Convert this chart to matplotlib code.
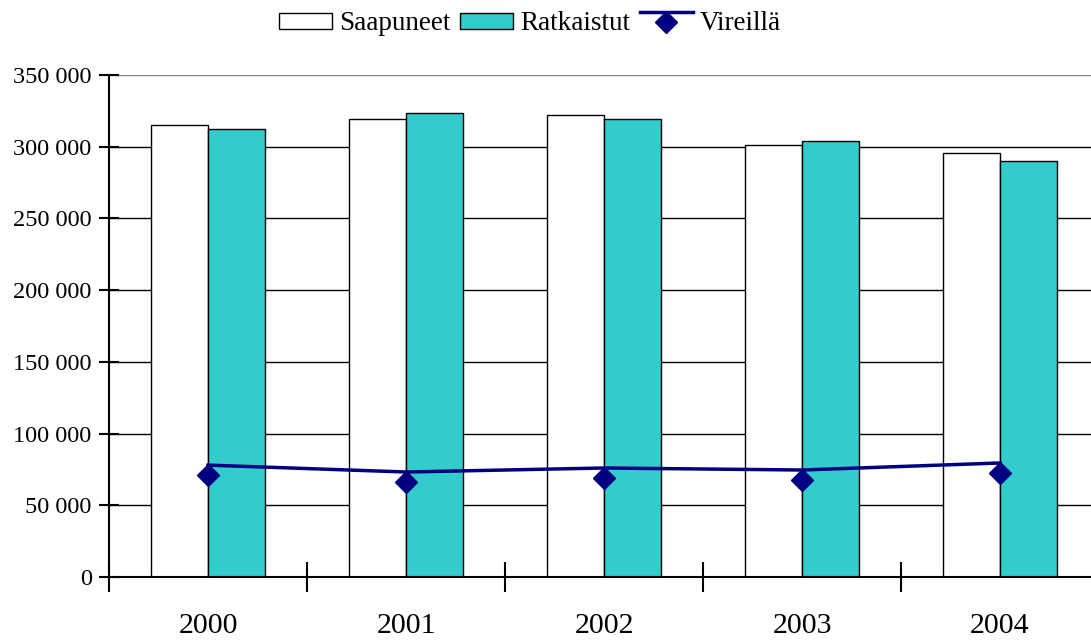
import numpy as np
import matplotlib.pyplot as plt
import matplotlib.transforms as mtransforms
from matplotlib.legend_handler import HandlerLine2DCompound

years = ['2000', '2001', '2002', '2003', '2004']
saapuneet = [315200, 319400, 322200, 301300, 295700]
ratkaistut = [312400, 323600, 319400, 304000, 290100]
vireilla = [78000, 73200, 76000, 74600, 79500]

plt.rcParams['font.family'] = ['Liberation Serif', 'DejaVu Serif']


class LineAboveMarker(HandlerLine2DCompound):
    # legend key like Excel: the line drawn a bit above the diamond
    def create_artists(self, legend, orig_handle, xdescent, ydescent,
                       width, height, fontsize, trans):
        arts = super().create_artists(legend, orig_handle, xdescent, ydescent,
                                      width, height, fontsize, trans)
        arts[0].set_transform(trans + mtransforms.Affine2D().translate(0, 10))
        return arts


fig = plt.figure(figsize=(10.91, 6.4), dpi=100)
ax = fig.add_axes([109 / 1091, 1 - 577 / 640, 990 / 1091, 502 / 640])

x = np.arange(len(years))
w = 0.288
b1 = ax.bar(x - w / 2, saapuneet, w, color='white', edgecolor='black', linewidth=1.0,
            label='Saapuneet', zorder=2)
b2 = ax.bar(x + w / 2, ratkaistut, w, color='#33CCCC', edgecolor='black', linewidth=1.0,
            label='Ratkaistut', zorder=2)

# markers sit a little below the line, as in the original
ax.plot(x, vireilla, color='#000080', lw=2.5, zorder=3)
off = mtransforms.offset_copy(ax.transData, fig=fig, x=0, y=-10, units='dots')
ax.plot(x, vireilla, ls='none', marker='D', ms=11, color='#000080',
        transform=off, zorder=4)
ln, = ax.plot([], [], color='#000080', lw=2.5, marker='D', ms=11, label='Vireillä')

ax.set_xlim(-0.5, 4.5)
ax.set_ylim(0, 350000)
yt = np.arange(0, 350001, 50000)
ax.set_yticks(yt)
ax.set_yticklabels([f'{v:,}'.replace(',', ' ') for v in yt], fontsize=17.5)
for v in yt[1:-1]:
    ax.axhline(v, color='black', lw=1.0, zorder=1)
ax.axhline(350000, color='#808080', lw=1.0, zorder=1)

ax.set_xticks(np.arange(-0.5, 4.6, 1.0))
ax.set_xticklabels([])
ax.set_xticks(x, minor=True)
ax.set_xticklabels(years, minor=True, fontsize=21.5)
ax.tick_params(axis='x', which='minor', length=0, pad=26)
ax.tick_params(axis='x', which='major', direction='inout', length=22, width=1.5)
ax.tick_params(axis='y', direction='inout', length=15, width=1.5, pad=5)

for s in ['top', 'right']:
    ax.spines[s].set_visible(False)
ax.spines['left'].set_linewidth(1.5)
ax.spines['bottom'].set_linewidth(1.5)
ax.spines['bottom'].set_zorder(5)

fig.legend([b1, b2, ln], ['Saapuneet', 'Ratkaistut', 'Vireillä'],
           loc='center', bbox_to_anchor=(530 / 1091, 1 - 24 / 640), ncol=3,
           frameon=False, fontsize=19.5, handlelength=1.95, handleheight=0.52,
           columnspacing=0.37, handletextpad=0.26,
           handler_map={ln: LineAboveMarker()})

fig.savefig('out.png', dpi=100)
